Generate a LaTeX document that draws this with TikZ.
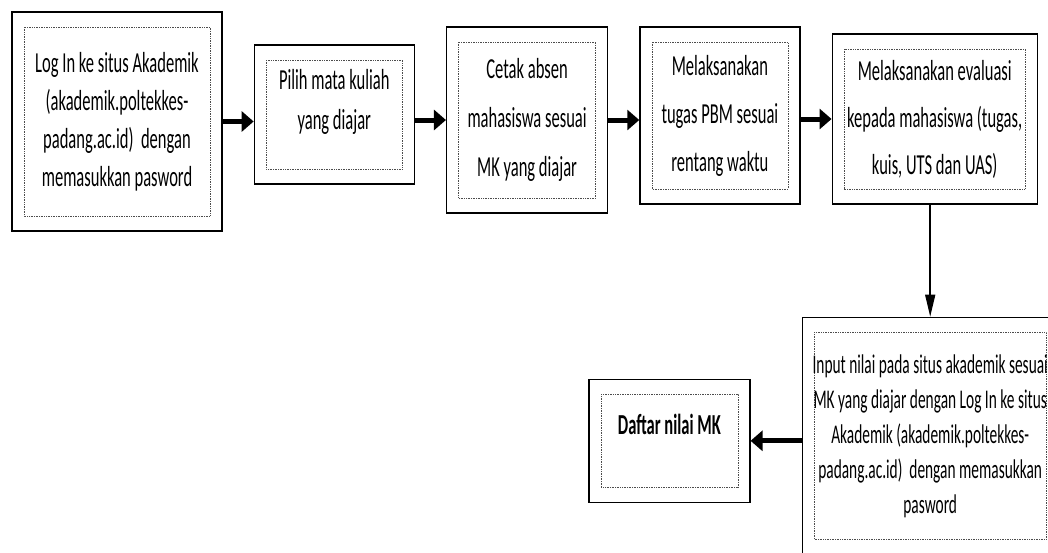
\documentclass[tikz,border=0pt]{standalone}
\usepackage{fontspec}
\setmainfont[FakeStretch=0.57]{Carlito}
\usetikzlibrary{positioning, chains, arrows.meta}

\begin{document}
\begin{tikzpicture}[x=1pt, y=-1pt,
    stepbox/.style={draw, line width=1.3pt, align=center, inner sep=0pt,
      font=\fontsize{29}{38}\selectfont,
      path picture={\draw[densely dotted, line width=0.7pt, black!70]
        ([shift={(12pt,-15pt)}]path picture bounding box.north west) rectangle
        ([shift={(-12pt,15pt)}]path picture bounding box.south east);}},
    flow/.style={-{Triangle[length=12pt,width=20pt]}, line width=5pt},
    down/.style={-{Triangle[length=22pt,width=10pt]}, line width=1.5pt},
    start chain=going right, node distance=31pt]

  \useasboundingbox (0,0) rectangle (1048,552);
  \clip (0,0) rectangle (1048,552);

  \node[stepbox, on chain, minimum width=210pt, minimum height=219pt] at (117,121.5) (login)
    {Log In ke situs Akademik\\(akademik.poltekkes-\\padang.ac.id)\ \ dengan\\memasukkan pasword};
  \node[stepbox, on chain, minimum width=160pt, minimum height=139pt, yshift=7pt,
    font=\fontsize{29}{40}\selectfont, text depth=30pt] (pilih)
    {Pilih mata kuliah\\yang diajar};
  \node[stepbox, on chain, minimum width=161pt, minimum height=186pt, yshift=-5.5pt,
    font=\fontsize{29}{49}\selectfont] (absen)
    {Cetak absen\\mahasiswa sesuai\\MK yang diajar};
  \node[stepbox, on chain, minimum width=160pt, minimum height=177pt, yshift=4.5pt,
    font=\fontsize{29}{48}\selectfont] (pbm)
    {Melaksanakan\\tugas PBM sesuai\\rentang waktu};
  \node[stepbox, on chain, minimum width=205pt, minimum height=170pt, yshift=-3.5pt,
    font=\fontsize{29}{47}\selectfont] (evaluasi)
    {Melaksanakan evaluasi\\kepada mahasiswa (tugas,\\kuis, UTS dan UAS)};

  \node[stepbox, below=112pt of evaluasi, xshift=-4.5pt, minimum width=256pt,
    minimum height=237pt, font=\fontsize{27}{35}\selectfont] (input)
    {Input nilai pada situs akademik sesuai\\MK yang diajar dengan Log In ke situs\\
     Akademik (akademik.poltekkes-\\padang.ac.id)\ \ dengan memasukkan\\pasword};
  \node[stepbox, left=51pt of input, yshift=-5pt, minimum width=161pt,
    minimum height=123pt, text depth=32pt] (daftar)
    {\textbf{Daftar nilai MK}};

  \draw[flow] (login) -- (login -| pilih.west);
  \draw[flow] (pilih.east |- absen) -- (absen);
  \draw[flow] (absen) -- (absen -| pbm.west);
  \draw[flow] (pbm.east |- evaluasi) -- (evaluasi);
  \draw[down] (evaluasi.south -| input.north) -- (input.north);
  \draw[flow] (input.west |- daftar) -- (daftar);
\end{tikzpicture}
\end{document}
